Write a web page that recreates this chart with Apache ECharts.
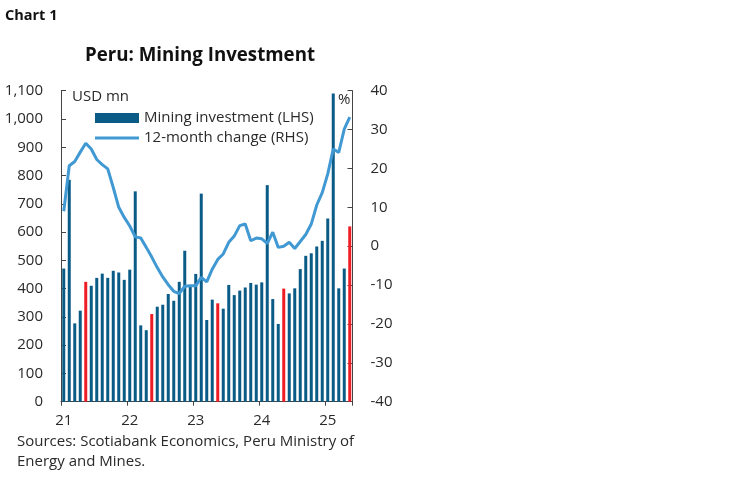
<!DOCTYPE html>
<html>
<head>
<meta charset="utf-8">
<script src="https://cdn.jsdelivr.net/npm/echarts@6/dist/echarts.min.js"></script>
<style>
html,body{margin:0;padding:0;background:#fff;}
#c{width:748px;height:483px;}
</style>
</head>
<body>
<div id="c"></div>
<script>
// Months Jan 2021 .. May 2025
const months = [
  '2021-01','2021-02','2021-03','2021-04','2021-05','2021-06','2021-07','2021-08','2021-09','2021-10','2021-11','2021-12',
  '2022-01','2022-02','2022-03','2022-04','2022-05','2022-06','2022-07','2022-08','2022-09','2022-10','2022-11','2022-12',
  '2023-01','2023-02','2023-03','2023-04','2023-05','2023-06','2023-07','2023-08','2023-09','2023-10','2023-11','2023-12',
  '2024-01','2024-02','2024-03','2024-04','2024-05','2024-06','2024-07','2024-08','2024-09','2024-10','2024-11','2024-12',
  '2025-01','2025-02','2025-03','2025-04','2025-05'
];
// Mining investment, USD mn (LHS)
const miningInvestment = [
  471, 785, 277, 322, 424, 410, 438, 453, 438, 463, 457, 431,
  467, 744, 270, 253, 310, 336, 343, 381, 357, 424, 534, 406,
  452, 736, 289, 361, 348, 329, 413, 377, 393, 404, 420, 414,
  422, 766, 363, 275, 400, 383, 401, 469, 516, 525, 549, 569,
  648, 1090, 401, 471, 620
];
// 12-month change, % (RHS)
const yoyChange = [
  9, 20.7, 21.8, 24.2, 26.5, 25, 22.3, 21, 19.9, 15.1, 10, 7.4,
  5.2, 2.4, 2.1, -0.3, -2.8, -5.5, -7.9, -9.9, -11.6, -12.2, -10.3, -10.2,
  -10.2, -8, -9.2, -5.9, -3.4, -2, 1.0, 2.6, 5.3, 5.7, 1.4, 2.1,
  1.9, 0.7, 3.6, -0.3, 0, 1, -0.6, 1.2, 3, 5.7, 10.6, 13.8,
  18.6, 25, 24.1, 30.1, 33.2
];
const highlightMonth = '05';
const leftTicks = [0, 1100, 100];
const rightTicks = [-40, 40, 10];

const FONT = '"Open Sans", sans-serif';
const TXT = '#2a2a2a';
const AX = '#444';
const BAR = '#0b5b87';
const RED = '#ee1c25';
const LINE = '#4199d3';

const barData = miningInvestment.map((v, i) =>
  months[i].slice(5) === highlightMonth ? {value: v, itemStyle: {color: RED}} : v);

const chart = echarts.init(document.getElementById('c'), null, {renderer: 'canvas'});
chart.setOption({
  animation: false,
  backgroundColor: '#fff',
  aria: {enabled: false, decal: {show: false}},
  textStyle: {fontFamily: FONT},
  title: [
    {text: 'Chart 1', left: 5, top: 8, padding: 0, textStyle: {fontFamily: FONT, fontSize: 14.5, fontWeight: 'bold', color: '#111'}},
    {text: 'Peru: Mining Investment', left: 85, top: 46, padding: 0, textStyle: {fontFamily: FONT, fontSize: 18.7, fontWeight: 'bold', color: '#111'}}
  ],
  grid: {left: 61, right: 395.5, top: 90.7, bottom: 81.3, containLabel: false},
  legend: {
    orient: 'vertical', left: 95, top: 108, padding: 0, itemGap: 0, itemWidth: 44, itemHeight: 10,
    textStyle: {fontFamily: FONT, fontSize: 15, color: TXT, lineHeight: 20},
    data: [
      {name: 'Mining investment (LHS)', icon: 'rect', itemStyle: {color: 'rgba(0,0,0,0)', borderWidth: 0}},
      {name: '12-month change (RHS)', icon: 'path://M0,0H44V3H0Z', itemStyle: {color: LINE, borderWidth: 0}, lineStyle: {width: 0}}
    ]
  },
  xAxis: {
    type: 'category', data: months, boundaryGap: true,
    axisLine: {lineStyle: {color: AX, width: 1}},
    axisTick: {show: true, length: 4, lineStyle: {color: AX}, interval: (i, v) => v.endsWith('-01')},
    axisLabel: {
      interval: (i, v) => v.endsWith('-01'),
      formatter: v => v.slice(2, 4),
      fontFamily: FONT, fontSize: 15, color: TXT, margin: 12
    },
    splitLine: {show: false}
  },
  yAxis: [
    {
      type: 'value', min: leftTicks[0], max: leftTicks[1], interval: leftTicks[2], position: 'left',
      axisLine: {show: true, lineStyle: {color: AX}},
      axisTick: {show: true, inside: true, length: 5, lineStyle: {color: AX}},
      axisLabel: {fontFamily: FONT, fontSize: 15, color: TXT, margin: 18,
        formatter: v => v.toLocaleString('en-US')},
      splitLine: {show: false}
    },
    {
      type: 'value', min: rightTicks[0], max: rightTicks[1], interval: rightTicks[2], position: 'right',
      axisLine: {show: true, lineStyle: {color: AX}},
      axisTick: {show: true, inside: true, length: 5, lineStyle: {color: AX}},
      axisLabel: {fontFamily: FONT, fontSize: 15, color: TXT, margin: 18},
      splitLine: {show: false}
    }
  ],
  graphic: [
    {type: 'rect', left: 95, top: 113, shape: {width: 44, height: 10}, style: {fill: BAR}, z: 100},
    {type: 'text', left: 72, top: 89, style: {text: 'USD mn', font: '15px ' + FONT, fill: TXT}},
    {type: 'text', left: 338, top: 92, style: {text: '%', font: '15px ' + FONT, fill: TXT}},
    {type: 'text', left: 17, top: 432, style: {text: 'Sources: Scotiabank Economics, Peru Ministry of\nEnergy and Mines.', font: '15px ' + FONT, fill: TXT, lineHeight: 19.5}}
  ],
  series: [
    {
      name: 'Mining investment (LHS)', type: 'bar', yAxisIndex: 0, data: barData,
      barWidth: 3,
      itemStyle: {color: BAR},
      z: 2
    },
    {
      name: '12-month change (RHS)', type: 'line', yAxisIndex: 1, data: yoyChange,
      symbol: 'none', smooth: false,
      lineStyle: {color: LINE, width: 3},
      itemStyle: {color: LINE},
      z: 3
    }
  ]
});
</script>
</body>
</html>
